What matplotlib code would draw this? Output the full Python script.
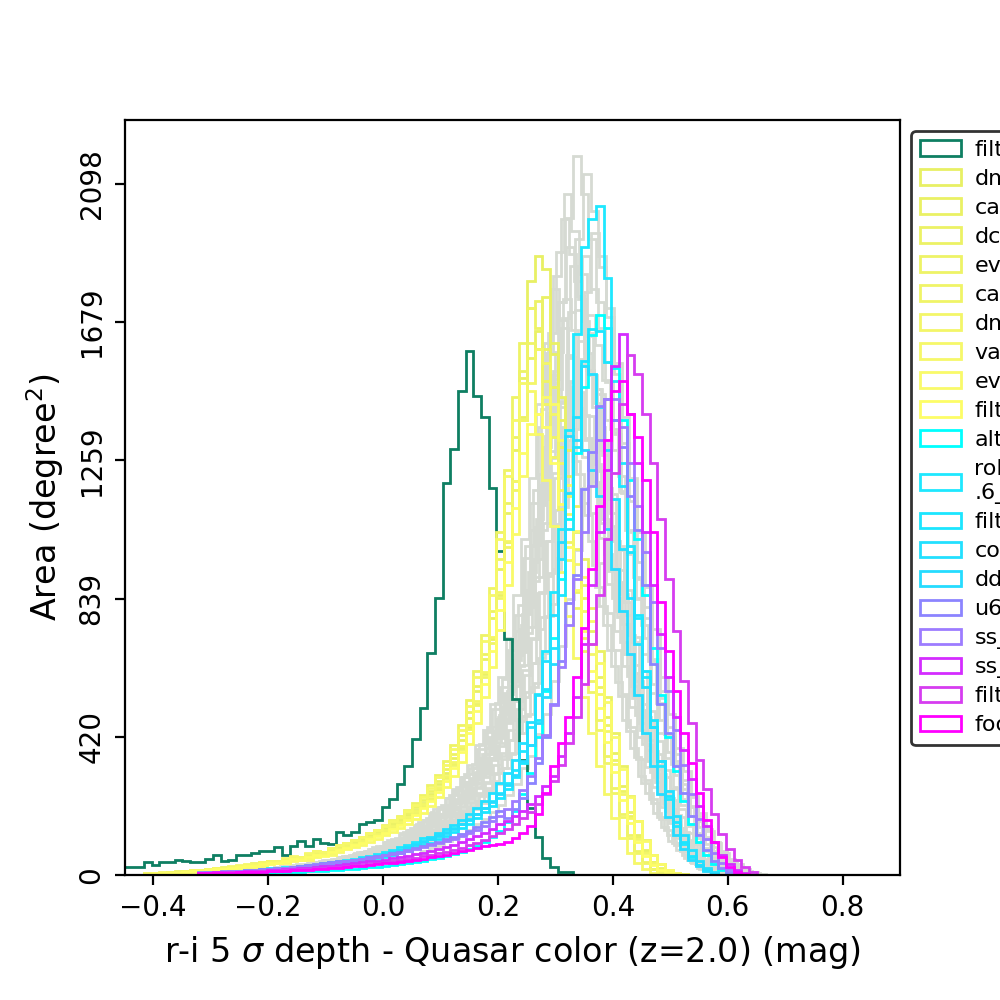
"""
r-i 5 sigma depth minus quasar colour, area histograms for many survey strategies
"""

import numpy as np
import matplotlib
matplotlib.use('Agg')
import matplotlib.pyplot as plt

# histogram grid (mag)
BIN_W = 0.01333
X0 = -0.4557

# ---- background (grey) runs: start bin index, small edge shift, counts ----
gray_start = [14, 15, 13, 12, 13, 14, 11, 16, 12, 15, 13, 11, 14, 17, 12, 15, 13, 16]
gray_shift = [0.0, 0.004, -0.003, 0.006, 0.002, -0.005, 0.003, -0.002, 0.005,
              -0.004, 0.001, 0.006, -0.006, 0.002, -0.001, 0.003, -0.004, 0.005]
gray_counts = [
    [12,10,14,15,18,19,23,24,27,27,34,35,40,43,49,54,60,64,73,78,88,95,110,119,137,151,170,184,209,226,258,281,324,356,419,475,551,627,748,866,1055,1236,1493,1738,1994,2183,2068,1930,1738,1558,1345,1165,975,838,670,552,430,355,268,211,150,112,74,49,27,16,6],
    [10,12,13,14,17,19,22,23,26,28,31,36,37,44,46,54,57,65,69,78,84,94,104,120,129,151,162,183,200,226,245,280,310,355,400,472,528,622,718,857,1015,1220,1440,1710,1930,2128,2015,1880,1695,1520,1310,1135,950,815,655,538,420,345,262,206,146,108,72,48,27,16,6],
    [9,11,12,13,17,18,22,22,26,26,32,32,38,41,47,50,57,61,70,73,84,89,105,112,130,143,161,174,199,214,244,266,308,337,398,450,522,594,710,820,1000,1170,1415,1645,1890,2068,1955,1825,1645,1475,1275,1100,925,790,636,520,410,333,255,199,142,105,70,46,26,15,6],
    [9,11,11,14,16,17,21,21,25,25,31,31,37,39,45,49,55,58,67,71,80,86,101,107,125,137,155,168,192,206,235,256,296,325,382,434,503,572,682,790,962,1128,1360,1585,1818,1990,1884,1758,1585,1420,1226,1060,890,762,612,502,394,322,245,192,136,101,67,45,25,14,6],
    [11,9,12,12,16,16,20,20,24,23,30,30,35,37,43,47,52,56,64,68,77,83,96,104,119,133,148,161,183,198,225,246,283,311,366,415,480,548,652,758,920,1080,1300,1518,1740,1905,1802,1682,1518,1360,1175,1015,852,728,588,480,377,308,235,183,131,97,64,43,23,13,5],
    [10,9,12,12,15,16,20,19,23,23,29,29,34,36,42,46,51,54,62,66,75,80,93,101,115,129,144,156,177,192,218,238,275,302,356,403,468,530,634,735,893,1048,1265,1474,1690,1850,1750,1635,1474,1320,1140,986,828,708,570,466,367,299,228,177,127,94,62,42,23,13,5],
    [8,10,10,13,13,17,17,21,20,24,26,30,31,37,38,46,47,54,58,65,70,79,88,99,109,126,136,153,168,189,206,234,260,297,335,395,441,520,600,718,850,1020,1205,1430,1615,1780,1685,1572,1418,1270,1098,948,796,682,548,449,352,288,220,171,122,90,60,40,22,12,5],
    [9,8,11,11,14,15,18,18,21,21,27,26,31,33,38,42,47,50,57,61,69,74,86,92,106,118,132,144,163,176,201,219,253,277,326,370,430,488,583,675,822,963,1162,1354,1552,1700,1608,1502,1354,1212,1048,906,760,650,522,428,336,275,210,163,116,86,58,38,21,12,5],
    [8,9,9,12,12,16,16,19,19,22,24,28,29,34,35,43,44,50,54,61,65,74,82,92,102,117,127,142,156,176,192,218,242,277,313,368,412,485,560,668,792,950,1124,1334,1505,1660,1570,1466,1322,1184,1024,884,742,635,510,418,328,268,205,159,113,84,56,37,20,12,5],
    [9,7,11,10,14,14,17,17,20,20,25,25,30,32,37,40,45,47,54,58,66,70,82,88,101,113,126,137,155,168,191,209,240,264,311,352,409,466,555,644,782,918,1108,1290,1480,1620,1532,1432,1290,1156,998,864,724,620,498,408,320,262,200,156,111,82,55,37,20,11,4],
    [7,9,8,12,11,15,15,18,18,21,23,26,27,33,34,41,42,48,51,58,62,70,78,88,97,112,121,136,149,168,183,208,230,264,297,350,392,462,533,636,754,905,1068,1270,1432,1580,1495,1396,1258,1128,974,842,706,605,486,398,312,256,195,152,108,80,53,36,19,11,4],
    [8,7,10,10,13,13,16,16,19,19,24,24,28,30,35,38,42,45,51,54,62,66,77,83,96,106,119,129,146,159,181,197,228,249,294,332,387,440,525,606,740,866,1046,1218,1398,1530,1447,1352,1218,1092,942,816,684,586,470,386,302,248,188,147,104,77,51,35,19,11,4],
    [7,9,8,11,11,15,14,17,17,20,22,25,26,31,32,39,40,46,48,55,59,67,74,83,92,106,114,129,141,159,173,197,218,250,282,333,371,440,505,606,715,860,1014,1206,1360,1500,1418,1326,1194,1070,924,800,670,575,460,378,296,243,185,144,102,76,50,34,18,10,4],
    [7,8,8,11,10,14,14,17,16,20,21,24,25,30,31,38,38,44,47,54,57,65,72,81,89,103,111,125,137,155,169,192,212,244,275,324,362,428,490,590,696,838,988,1174,1322,1460,1380,1290,1162,1042,900,780,652,560,448,368,288,237,180,140,99,74,49,33,18,10,4],
    [6,8,7,11,10,14,13,17,16,19,20,24,24,30,30,37,37,43,46,52,56,63,70,79,87,101,108,122,134,151,164,187,207,237,267,315,352,416,478,574,677,814,960,1142,1288,1420,1342,1256,1130,1014,875,758,634,544,436,358,280,230,175,137,97,72,47,32,17,10,4],
    [10,8,12,12,16,16,20,20,23,23,29,29,35,37,42,46,52,55,63,67,76,82,95,102,117,131,146,159,180,195,222,243,279,307,360,410,474,540,644,748,908,1066,1284,1498,1716,1880,1780,1660,1498,1340,1160,1000,842,720,580,472,372,304,232,180,129,95,63,42,23,13,5],
    [8,10,9,13,13,17,17,20,20,23,25,29,30,36,37,45,46,53,57,64,69,78,86,97,107,124,134,150,165,186,202,230,255,292,330,388,434,512,590,706,834,1002,1184,1406,1588,1750,1656,1546,1394,1248,1080,932,784,670,538,440,346,283,216,168,120,88,59,39,21,12,5],
    [9,11,11,14,14,19,19,22,22,26,28,32,34,40,42,50,52,59,63,72,77,87,96,108,120,138,149,168,183,207,226,257,284,325,368,432,484,570,658,786,930,1118,1320,1566,1770,1950,1846,1722,1554,1390,1204,1040,874,746,600,490,386,315,240,187,134,98,66,44,24,13,5],
]

# ---- highlighted runs ----
run_labels = [
    'filterdist_indx2_v1.6_10yrs',
    'dm_heavy_nexp2_v1.6_10yrs',
    'carina_v1.6_10yrs',
    'dcr_nham2_ugri_v1.6_10yrs',
    'even_filters_alt_g_v1.6_10yrs',
    'cadence_drive_gl100_gcbv1.6_10yrs',
    'dm_heavy_v1.6_10yrs',
    'var_expt_v1.6_10yrs',
    'even_filters_g_v1.6_10yrs',
    'filterdist_indx7_v1.6_10yrs',
    'alt_roll_mod2_dust_sdf_0.20_v1.6_10yrs',
    'rolling_nm_scale0.90_nslice3_fpw0.9_nrw0.0v1\n.6_10yrs',
    'filterdist_indx3_v1.6_10yrs',
    'combo_dust_v1.6_10yrs',
    'ddf_heavy_v1.6_10yrs',
    'u60_v1.6_10yrs',
    'ss_heavy_nexp2_v1.6_10yrs',
    'ss_heavy_v1.6_10yrs',
    'filterdist_indx8_v1.6_10yrs',
    'footprint_stuck_rollingv1.6_10yrs',
]
run_colors = [
    '#0e7f62',
    '#e8f064', '#eaf164', '#ecf265', '#eef366', '#f0f467',
    '#f3f668', '#f6f869', '#f9fa69', '#fdfd66',
    '#00ffff', '#1ee8ff', '#1be6ff', '#22e0ff', '#25dcff',
    '#8c84ff', '#9d7cff',
    '#d42cff', '#d63cf0', '#ff00ff',
]
run_start = [0, 3, 3, 3, 3, 3, 3, 3, 3, 3, 10, 10, 10, 10, 10, 10, 10, 10, 10, 10]
run_counts = [
    # filterdist_indx2
    [25,25,25,40,30,40,40,45,43,40,40,48,62,43,46,60,62,68,72,72,85,62,87,102,87,110,98,95,130,120,
     130,156,161,166,207,232,275,331,412,507,675,841,1189,1292,1468,1590,1453,1389,1176,985,716,534,
     349,203,115,52,24,9,9],
    # yellows
    [4,6,5,8,10,9,13,15,14,18,22,20,26,29,33,35,41,38,46,52,49,60,66,63,74,82,90,97,105,118,
     126,140,152,165,181,198,220,246,275,310,356,410,478,560,655,780,930,1100,1290,1510,1804,
     1880,1840,1583,1380,1210,1040,880,740,600,480,370,270,190,120,75,40,20,8,3],
    [3,4,6,7,6,10,12,11,15,17,16,21,24,28,27,32,36,42,40,47,55,53,62,70,68,79,88,95,103,112,
     120,133,146,158,172,190,210,232,262,296,338,385,448,520,610,715,850,1010,1195,1390,1570,1650,
     1755,1616,1450,1290,1120,960,810,680,540,430,330,240,165,105,62,33,15,6,2],
    [5,5,7,9,8,11,14,13,17,20,19,24,27,31,30,37,42,40,48,55,53,63,70,67,78,86,93,101,110,123,
     132,145,158,170,188,205,228,255,286,322,368,425,495,575,670,800,960,1130,1330,1530,1722,
     1743,1598,1480,1300,1150,990,840,700,570,455,350,255,180,115,70,38,18,7,2],
    [4,6,6,9,11,10,14,16,15,20,23,22,28,31,35,38,44,41,50,56,54,65,72,70,81,90,98,106,116,128,
     138,152,166,180,198,218,242,272,305,345,395,455,530,620,730,870,1040,1230,1450,1616,
     1722,1660,1500,1330,1170,1010,860,720,590,470,360,265,185,120,72,40,19,8,3],
    [3,5,6,8,9,9,12,14,13,17,20,19,24,27,30,33,38,36,43,49,47,57,63,61,71,78,85,92,100,111,
     120,132,144,156,171,188,208,232,260,293,334,383,443,515,602,705,840,995,1170,1380,
     1616,1598,1430,1270,1110,955,810,680,555,440,340,250,175,112,68,36,17,7,2],
    [4,5,7,8,7,11,13,12,16,19,18,23,26,30,29,34,40,38,45,51,50,59,65,63,73,80,87,95,103,115,
     124,136,149,162,177,194,215,240,268,301,343,393,455,528,617,722,858,1015,1195,1380,1495,
     1598,1555,1400,1250,1095,945,800,672,548,436,336,246,172,110,66,35,16,6,2],
    [5,6,8,10,9,12,15,14,18,21,20,26,29,33,32,39,44,42,51,57,55,66,72,70,82,90,97,106,115,127,
     136,150,163,177,194,213,236,264,296,335,382,440,512,600,710,850,1020,1210,1380,
     1495,1470,1340,1200,1060,920,785,660,540,430,332,245,172,111,67,36,17,7,2],
    [3,4,5,6,6,8,10,10,13,15,14,18,21,24,23,28,32,37,35,42,48,46,55,62,60,70,78,85,92,100,
     108,120,131,142,155,171,189,209,236,266,302,344,398,460,540,632,745,880,1035,1210,1340,1400,
     1450,1430,1320,1185,1045,905,770,645,525,418,322,236,163,104,61,32,14,5,2],
    [4,5,6,7,7,10,12,11,15,17,17,21,24,28,27,32,37,35,42,48,46,55,61,59,69,76,83,90,98,109,
     117,129,141,153,167,183,203,226,253,285,325,372,430,498,580,680,805,950,1115,1280,1370,
     1400,1360,1250,1125,995,865,740,620,508,404,312,228,158,100,59,31,14,5,2],
    # cyans
    [2,3,3,4,4,5,5,6,6,7,8,8,9,10,11,12,13,14,16,17,19,21,23,25,28,30,33,36,40,44,
     48,53,58,64,70,78,88,100,115,135,160,195,245,310,420,560,720,900,1080,1280,1480,1640,
     1700,1660,1540,1380,1200,1020,850,690,545,420,315,225,155,100,60,32,14],
    [6,8,7,10,12,11,14,16,18,20,22,25,24,28,31,30,35,38,42,46,50,55,58,63,70,76,84,92,100,112,
     110,120,130,142,156,170,186,204,225,250,280,320,375,450,550,680,860,1050,1350,1643,1905,1992,
     2031,1813,1500,1250,1000,780,600,450,330,230,150,95,55,30,15,6],
    [5,6,7,7,9,10,10,12,14,15,17,19,18,22,24,23,27,30,33,36,40,43,47,52,56,62,68,74,81,90,
     98,108,118,130,142,156,172,190,210,234,262,296,340,395,470,565,690,850,1050,1300,1560,1658,
     1650,1556,1380,1180,980,790,620,470,345,240,160,100,58,30,14,6],
    [7,6,9,10,9,12,14,13,17,18,21,20,24,27,26,31,34,33,39,43,47,52,51,58,64,70,77,85,94,104,
     115,126,139,153,168,185,204,225,250,278,310,350,400,465,545,650,790,960,1160,1390,
     1546,1520,1420,1290,1140,990,840,700,570,450,345,255,180,120,75,42,20,8],
    [6,7,8,8,10,11,12,13,15,16,18,20,22,24,26,28,31,34,37,40,44,48,53,58,63,69,75,82,90,99,
     108,118,129,141,154,168,184,202,222,245,272,305,345,395,460,540,640,1010,
     1334,1320,1290,1230,1150,1050,930,800,670,545,430,330,245,175,120,78,47,26,12,5],
    # purples
    [8,9,10,11,12,13,14,16,17,19,20,22,25,27,30,32,35,38,41,44,47,50,54,58,62,66,71,76,82,88,
     94,100,108,116,125,135,146,160,175,195,172,200,235,280,340,420,520,650,825,910,1173,1283,
     1425,1446,1380,1298,1150,1046,880,640,520,430,330,250,180,120,75,42,22,10,4],
    [7,8,9,10,11,12,13,14,16,17,19,21,23,25,28,30,33,36,39,42,45,48,52,56,60,64,68,73,78,84,
     90,96,103,110,118,127,137,149,163,180,200,225,258,300,355,425,515,630,760,900,1040,1180,1320,
     1446,1446,1360,1250,1120,980,830,690,560,440,335,245,170,110,66,36,17,7],
    # magentas
    [6,7,8,8,9,10,11,12,13,14,16,17,19,20,22,24,26,28,30,33,35,38,41,44,47,51,55,59,63,68,
     73,79,85,92,100,108,118,128,140,154,165,180,195,215,240,270,300,360,430,540,700,880,1040,1230,
     1546,1643,1400,1250,1040,880,733,600,480,380,290,210,150,100,60,32,15,6],
    [5,6,6,7,8,9,9,10,11,12,13,14,16,17,18,20,22,23,25,27,29,31,34,36,39,42,45,49,53,57,
     61,66,71,77,83,90,98,107,117,128,140,155,172,192,215,245,285,335,400,480,580,700,850,1020,1220,1430,
     1580,1520,1400,1250,1080,900,740,590,460,350,260,185,125,80,46,24,10],
    [5,5,6,7,7,8,9,9,10,11,12,13,14,15,16,18,19,21,22,24,26,28,30,32,35,37,40,43,47,50,
     54,58,62,67,72,77,82,87,90,95,100,112,127,150,185,250,330,400,480,600,750,930,1120,1320,1470,
     1500,1400,1330,1200,1040,830,680,560,430,340,250,167,100,55,25,10,4],
]

y_ticks = [0, 420, 839, 1259, 1679, 2098]


def draw_hist(ax, start_idx, counts, color, shift=0.0, label=None):
    counts = np.asarray(counts, dtype=float)
    edges = X0 + shift + BIN_W * (start_idx + np.arange(len(counts) + 1))
    centers = 0.5 * (edges[:-1] + edges[1:])
    ax.hist(centers, bins=edges, weights=counts, histtype='step',
            color=color, linewidth=1.0, label=label)


fig, ax = plt.subplots(figsize=(5, 5))
fig.subplots_adjust(left=0.125, right=0.9, bottom=0.125, top=0.88)

for s, sh, c in zip(gray_start, gray_shift, gray_counts):
    draw_hist(ax, s, c, '#d6dad3', shift=sh)

for lab, col, s, c in zip(run_labels, run_colors, run_start, run_counts):
    draw_hist(ax, s, c, col, label=lab)

ax.set_xlim(-0.449, 0.90)
ax.set_ylim(0, 2292)
ax.set_yticks(y_ticks)
ax.set_yticklabels([str(t) for t in y_ticks], rotation=90, va='center')

ax.set_xlabel(r'r-i 5 $\sigma$ depth - Quasar color (z=2.0) (mag)', fontsize=12)
ax.set_ylabel(r'Area (degree$^2$)', fontsize=12)

leg = ax.legend(loc='upper left', bbox_to_anchor=(1.0, 1.0), fontsize=8,
                labelspacing=0.36, handlelength=1.85, handletextpad=0.6)
leg.get_frame().set_edgecolor('k')

fig.savefig('out.png', dpi=200)
